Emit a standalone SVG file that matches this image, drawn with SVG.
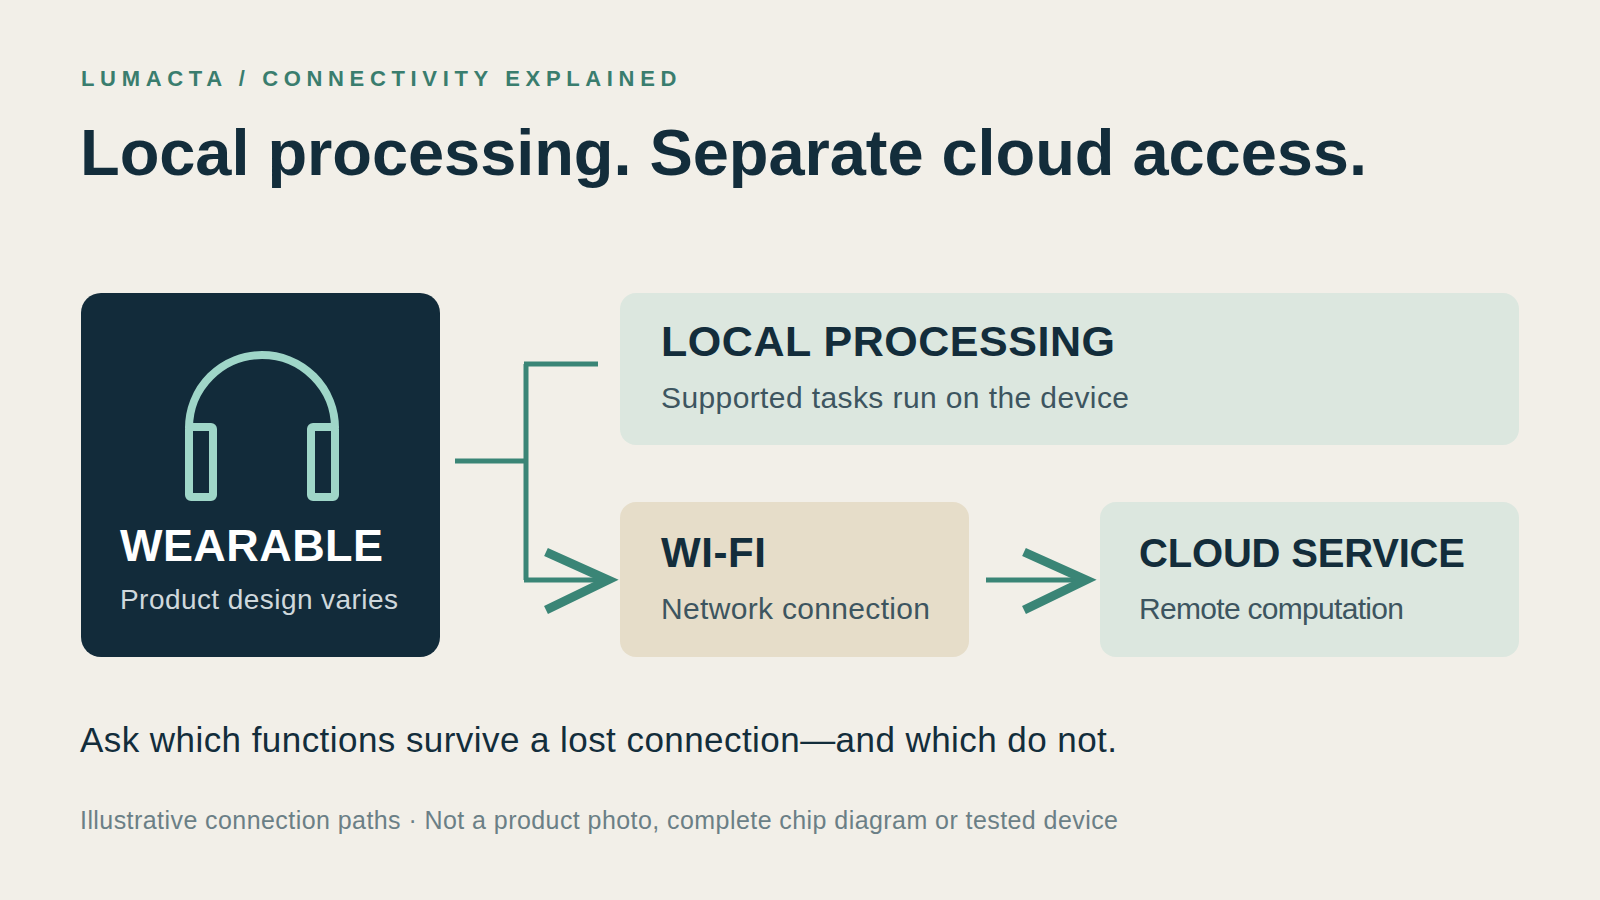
<svg xmlns="http://www.w3.org/2000/svg" width="1600" height="900" viewBox="0 0 1600 900">
<style>
text{font-family:"Liberation Sans",Arial,sans-serif}
.h{font-weight:bold;fill:#132d3b}
.s{fill:#3d5560;font-size:30px}
.c{fill:none;stroke:#3a8576;stroke-width:5}
.ch{fill:none;stroke:#3a8576;stroke-width:9}
</style>
<rect width="1600" height="900" fill="#f2efe8"/>
<text x="81" y="86" font-size="22" font-weight="bold" fill="#3a7d6e" letter-spacing="5.6" textLength="601">LUMACTA / CONNECTIVITY EXPLAINED</text>
<text x="80" y="175" font-size="65" class="h" textLength="1287">Local processing. Separate cloud access.</text>
<g id="wearable">
<rect x="81" y="293" width="359" height="364" rx="20" fill="#122b3a"/>
<g fill="none" stroke="#9fd6c8" stroke-width="8" stroke-linejoin="round">
<path d="M189,428 A73,73 0 0 1 335,428"/>
<rect x="189" y="427" width="24" height="70" rx="2"/>
<rect x="311" y="427" width="24" height="70" rx="2"/>
</g>
<text x="120" y="561" font-size="45" font-weight="bold" fill="#ffffff" textLength="263">WEARABLE</text>
<text x="120" y="609" font-size="28" fill="#cfd8dc" textLength="278">Product design varies</text>
</g>
<g id="local">
<rect x="620" y="293" width="899" height="152" rx="16" fill="#dce7df"/>
<text x="661" y="356" font-size="43" class="h" textLength="454">LOCAL PROCESSING</text>
<text x="661" y="408" class="s" textLength="468">Supported tasks run on the device</text>
</g>
<g id="wifi">
<rect x="620" y="502" width="349" height="155" rx="16" fill="#e6ddc9"/>
<text x="661" y="567" font-size="42" class="h" textLength="105">WI-FI</text>
<text x="661" y="619" class="s" textLength="269">Network connection</text>
</g>
<g id="cloud">
<rect x="1100" y="502" width="419" height="155" rx="16" fill="#dce7df"/>
<text x="1139" y="567" font-size="40" class="h" textLength="326">CLOUD SERVICE</text>
<text x="1139" y="619" class="s" textLength="265">Remote computation</text>
</g>
<g id="connectors">
<path class="c" d="M455,461 H526 M526,364 V580 M524,364 H598 M524,580 H612"/>
<path class="ch" d="M546,552 L608,580 L546,610"/>
<path class="c" d="M986,580 H1088"/>
<path class="ch" d="M1024,552 L1086,580 L1024,610"/>
</g>
<text x="80" y="752" font-size="35" fill="#132d3b" textLength="1037">Ask which functions survive a lost connection—and which do not.</text>
<text x="80" y="829" font-size="25" fill="#6b7f86" textLength="1038">Illustrative connection paths · Not a product photo, complete chip diagram or tested device</text>
</svg>
